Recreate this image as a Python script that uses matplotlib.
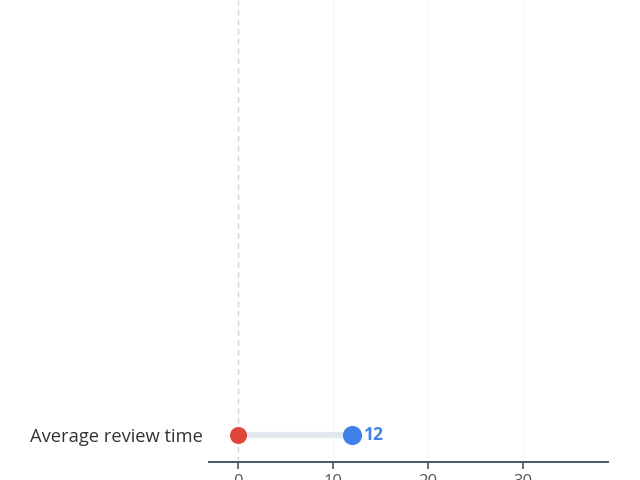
import matplotlib.pyplot as plt

# ---------- Data ----------
categories = ["Average review time"]
start_values = [0]
end_values = [12]
x_ticks = [0, 10, 20, 30]

plt.rcParams["font.family"] = ["Open Sans", "DejaVu Sans"]

fig = plt.figure(figsize=(6.4, 4.8), dpi=100)
ax = fig.add_axes([0.3266, 0.0375, 0.623, 0.9625])

y_pos = list(range(len(categories)))

# faint grid + dashed zero line
for t in x_ticks[1:]:
    ax.axvline(t, color="#f8f9fa", lw=1, zorder=0)
ax.axvline(0, color="#d6d6d6", lw=1, ls=(0, (4, 3)), zorder=1)

# connector, dots, value label
ax.hlines(y_pos, start_values, end_values, color="#e2e8f0", lw=4.5, zorder=2)
ax.scatter(start_values, y_pos, s=150, color="#e0443a", zorder=3, linewidths=0)
ax.scatter(end_values, y_pos, s=190, color="#3f83e8", zorder=3, linewidths=0)
for y, v in zip(y_pos, end_values):
    ax.text(v + 1.2, y, f"{v}", color="#3f83e8", fontsize=12.5, fontweight="bold",
            va="center", ha="left")

ax.set_xlim(-3.05, 38.9)
ax.set_ylim(-1, 16.1)
ax.set_xticks(x_ticks)
ax.set_yticks(y_pos)
ax.set_yticklabels(categories)

for side in ["top", "right", "left"]:
    ax.spines[side].set_visible(False)
ax.spines["bottom"].set_color("#4a5568")
ax.spines["bottom"].set_linewidth(1.4)
ax.tick_params(axis="x", colors="#4a5568", labelcolor="#555555", labelsize=12,
               length=5, width=1.2)
ax.tick_params(axis="y", length=0, labelsize=13.2, labelcolor="#333333", pad=4.5)

fig.savefig("out.png", dpi=100)
